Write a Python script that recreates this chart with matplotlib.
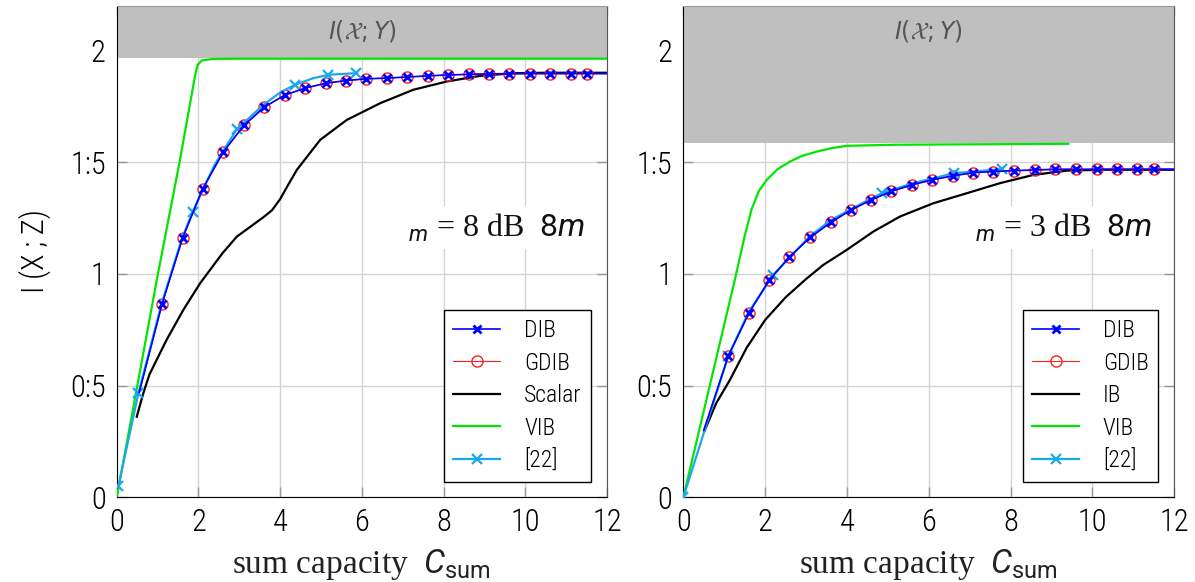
import numpy as np
import matplotlib
matplotlib.use("Agg")
import matplotlib.pyplot as plt

plt.rcParams['mathtext.fontset'] = 'custom'
plt.rcParams['mathtext.rm'] = 'Roboto'
plt.rcParams['mathtext.it'] = 'Roboto:italic'
plt.rcParams['mathtext.bf'] = 'Roboto:bold'
sans = ['Liberation Sans Narrow', 'Roboto Condensed', 'Roboto', 'DejaVu Sans']
serif = ['Liberation Serif', 'DejaVu Serif']

# ---- data ----
x_ticks = [0, 2, 4, 6, 8, 10, 12]
y_ticks = [0, 0.5, 1, 1.5, 2]
y_tick_labels = ['0', '0:5', '1', '1:5', '2']

# left panel (8 dB)
dib_x_l = [0.55, 1.11, 1.61, 2.10, 2.61, 3.11, 3.61, 4.11, 4.61, 5.11, 5.61, 6.11, 6.61,
           7.11, 7.61, 8.11, 8.61, 9.11, 9.61, 10.11, 10.61, 11.11, 11.52, 12.0]
dib_y_l = [0.47, 0.866, 1.16, 1.38, 1.546, 1.664, 1.746, 1.800, 1.831, 1.853, 1.865, 1.873, 1.876,
           1.881, 1.886, 1.890, 1.893, 1.895, 1.896, 1.896, 1.896, 1.896, 1.896, 1.896]
gdib_x_l = dib_x_l
gdib_y_l = dib_y_l
scalar_x = [0.49, 0.65, 0.8, 1.22, 1.63, 2.04, 2.59, 2.94, 3.3, 3.6, 3.8, 4.0, 4.2, 4.41, 4.98,
            5.63, 6.45, 7.26, 8.08, 8.89, 9.71, 10.5, 12.0]
scalar_y = [0.361, 0.466, 0.55, 0.705, 0.839, 0.958, 1.093, 1.167, 1.215, 1.255, 1.285, 1.335,
            1.40, 1.466, 1.600, 1.689, 1.764, 1.824, 1.861, 1.886, 1.898, 1.900, 1.900]
vib_x_l = [0, 0.98, 1.54, 1.92, 1.98, 2.08, 2.36, 3.0, 12.0]
vib_y_l = [0, 0.973, 1.503, 1.89, 1.935, 1.955, 1.962, 1.963, 1.963]
ref_x_l = [0.04, 0.53, 1.1, 1.6, 1.86, 2.4, 2.94, 3.6, 4.0, 4.36, 4.8, 5.18, 5.85]
ref_y_l = [0.051, 0.466, 0.868, 1.16, 1.279, 1.49, 1.648, 1.758, 1.812, 1.846, 1.875, 1.891, 1.898]
ref_mark_l = [0, 1, 4, 6, 9, 11, 12]
ixy_l = 1.966

# right panel (3 dB)
dib_x_r = [0.5, 1.10, 1.61, 2.10, 2.59, 3.10, 3.61, 4.10, 4.59, 5.08, 5.58, 6.09, 6.60,
           7.09, 7.58, 8.09, 8.60, 9.09, 9.60, 10.10, 10.60, 11.10, 11.50, 12.0]
dib_y_r = [0.30, 0.633, 0.827, 0.972, 1.075, 1.163, 1.231, 1.286, 1.331, 1.369, 1.398, 1.421,
           1.439, 1.453, 1.458, 1.462, 1.465, 1.468, 1.468, 1.468, 1.468, 1.468, 1.468, 1.468]
gdib_x_r = dib_x_r
gdib_y_r = dib_y_r
ib_x = [0.51, 0.8, 1.14, 1.55, 2.0, 2.5, 2.98, 3.42, 3.99, 4.65, 5.30, 6.11, 6.93, 7.74, 8.56,
        9.37, 10.2, 12.0]
ib_y = [0.294, 0.42, 0.526, 0.67, 0.794, 0.895, 0.974, 1.040, 1.107, 1.190, 1.257, 1.316, 1.361,
        1.406, 1.443, 1.462, 1.466, 1.466]
vib_x_r = [0, 1.26, 1.5, 1.67, 1.85, 2.04, 2.3, 2.61, 2.9, 3.26, 3.6, 4.0, 5.2, 9.41]
vib_y_r = [0, 0.974, 1.17, 1.290, 1.372, 1.421, 1.468, 1.503, 1.528, 1.547, 1.562, 1.573,
           1.578, 1.582]
ref_x_r = [0, 1.1, 1.6, 2.2, 3.1, 3.6, 4.1, 4.85, 5.6, 6.62, 7.1, 7.78]
ref_y_r = [0, 0.633, 0.83, 0.996, 1.17, 1.24, 1.29, 1.361, 1.405, 1.451, 1.458, 1.469]
ref_mark_r = [0, 1, 3, 7, 9, 11]
ixy_r = 1.585

panels = [
    dict(dib=(dib_x_l, dib_y_l), gdib=(gdib_x_l, gdib_y_l), base=(scalar_x, scalar_y),
         base_name='Scalar', vib=(vib_x_l, vib_y_l), ref=(ref_x_l, ref_y_l),
         ref_mark=ref_mark_l, ixy=ixy_l, snr='8'),
    dict(dib=(dib_x_r, dib_y_r), gdib=(gdib_x_r, gdib_y_r), base=(ib_x, ib_y),
         base_name='IB', vib=(vib_x_r, vib_y_r), ref=(ref_x_r, ref_y_r),
         ref_mark=ref_mark_r, ixy=ixy_r, snr='3'),
]

blue = '#0000ff'
red = '#ff2020'
green = '#00e600'
cyan = '#1aa7ec'

fig = plt.figure(figsize=(11.95, 5.82), dpi=100)
axes = [fig.add_axes([0.0977, 0.1454, 0.4103, 0.8448]),
        fig.add_axes([0.5718, 0.1454, 0.4109, 0.8448])]

for ax, p in zip(axes, panels):
    n = len(p['dib'][0])
    marks = list(range(1, n - 1))
    ax.axhspan(p['ixy'], 2.2, color='#bfbfbf', zorder=1, lw=0)
    ax.text(6, 2.085, r'$I(\mathcal{X};Y)$', ha='center', va='center',
            fontsize=17, color='#555555', zorder=2, math_fontfamily='dejavusans')
    l_dib, = ax.plot(*p['dib'], color=blue, lw=1.2, marker='x', ms=6, mew=2,
                     markevery=marks, zorder=5, label='DIB')
    l_gdib, = ax.plot(*p['gdib'], color=red, lw=0.8, marker='o', ms=8, mew=1,
                      mfc='none', markevery=marks, zorder=4, label='GDIB')
    l_base, = ax.plot(*p['base'], color='black', lw=1.6, zorder=3, label=p['base_name'])
    l_vib, = ax.plot(*p['vib'], color=green, lw=1.6, zorder=3, label='VIB')
    l_ref, = ax.plot(*p['ref'], color=cyan, lw=1.6, marker='x', ms=7, mew=1.6,
                     markevery=p['ref_mark'], zorder=4.5, label='[22]')

    ax.text(11.45, 1.167, r'${}_{m}$ = ' + p['snr'] + r' dB  $8m$', ha='right',
            va='baseline', fontsize=23, family=serif, color='#111111', zorder=6,
            bbox=dict(fc='white', ec='none', pad=4))

    ax.set_xlim(0, 12)
    ax.set_ylim(0, 2.2)
    ax.set_xticks(x_ticks)
    ax.set_xticklabels([str(t) for t in x_ticks])
    ax.set_yticks(y_ticks)
    ax.set_yticklabels(y_tick_labels)
    for lab in ax.get_xticklabels() + ax.get_yticklabels():
        lab.set_family(sans)
        lab.set_fontsize(22)
        lab.set_fontweight('light')
        lab.set_color('black')
    ax.tick_params(direction='in', length=7, width=1, color='#999999', pad=8,
                   top=True, right=True)
    ax.grid(True, color='#d4d4d4', lw=1)
    ax.set_axisbelow(True)
    ax.spines['left'].set_color('black')
    ax.spines['bottom'].set_color('black')
    ax.spines['right'].set_color('#555555')
    ax.spines['top'].set_color('#999999')

    ax.set_xlabel(r'sum capacity  $C_{\mathrm{sum}}$', fontsize=24, family=serif,
                  color='#222222', labelpad=7)

    leg = ax.legend(handles=[l_dib, l_gdib, l_base, l_vib, l_ref], loc='lower right',
                    bbox_to_anchor=(0.967, 0.032), borderaxespad=0, fancybox=False,
                    edgecolor='black', framealpha=1,
                    prop=dict(family=sans, size=17, weight='light'),
                    handlelength=2.0, labelspacing=0.4, handletextpad=1.0)
    leg.get_frame().set_linewidth(1)
    leg.set_zorder(10)

axes[0].set_ylabel('I (X ; Z)', fontsize=22, family=sans, fontweight='light',
                   color='black', labelpad=14)

fig.savefig('out.png', dpi=100)
